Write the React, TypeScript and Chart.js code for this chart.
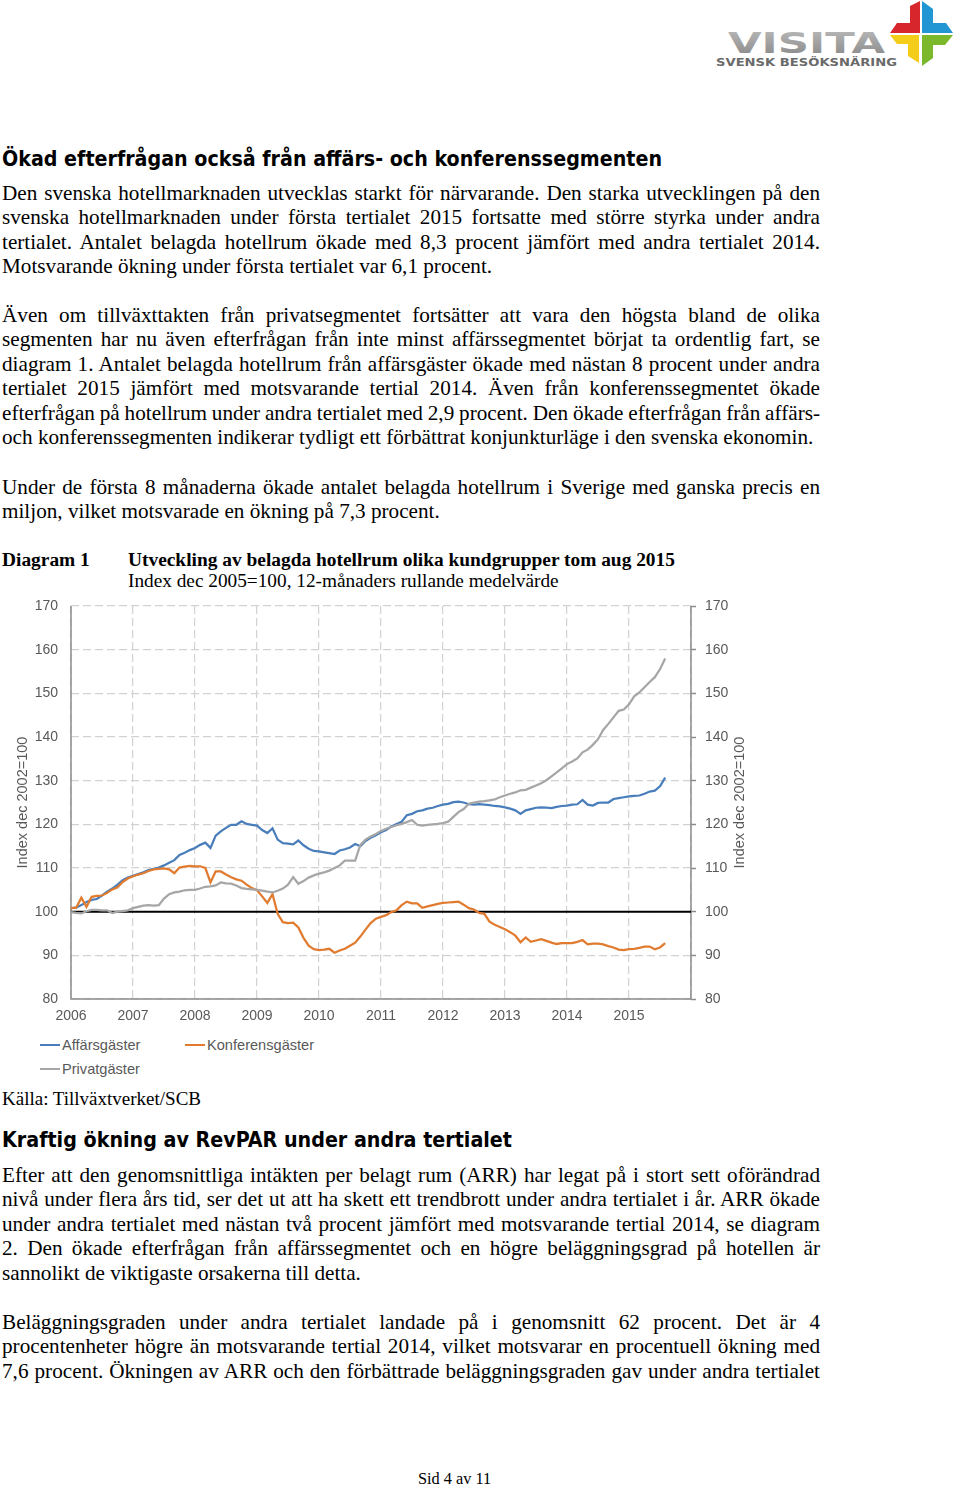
import React, { useEffect, useRef } from 'react';
import { Chart, registerables } from 'chart.js';

Chart.register(...registerables);

// ---------- chart data (monthly, Jan 2006 .. Aug 2015) ----------
const yearLabels = ['2006', '2007', '2008', '2009', '2010', '2011', '2012', '2013', '2014', '2015'];
const yTickValues = [80, 90, 100, 110, 120, 130, 140, 150, 160, 170];
const seriesNames = ['Affärsgäster', 'Konferensgäster', 'Privatgäster'];

const affarsgaster = [
  100.8, 100.9, 101.5, 102.2, 102.7, 102.9, 103.7, 104.6, 105.3, 106.2, 107.2, 107.8,
  108.2, 108.6, 109.0, 109.5, 109.8, 110.1, 110.6, 111.2, 111.8, 113.0, 113.5, 114.1,
  114.6, 115.3, 115.8, 114.6, 117.4, 118.4, 119.2, 119.9, 119.9, 120.7, 120.1, 119.9,
  119.7, 118.7, 118.0, 119.1, 116.5, 115.7, 115.6, 115.4, 116.3, 115.2, 114.4, 113.9,
  113.8, 113.6, 113.4, 113.2, 114.0, 114.3, 114.7, 115.5, 115.0, 116.2, 116.9, 117.5,
  118.2, 118.7, 119.5, 120.1, 120.6, 122.1, 122.4, 123.0, 123.2, 123.6, 123.8, 124.2,
  124.5, 124.7, 125.1, 125.2, 125.0, 124.6, 124.5, 124.6, 124.5, 124.4, 124.2, 124.1,
  123.9, 123.6, 123.2, 122.4, 123.2, 123.5, 123.8, 123.9, 123.8, 123.7, 124.0, 124.2,
  124.3, 124.5, 124.6, 125.6, 124.5, 124.3, 124.9, 125.0, 125.0, 125.8, 126.0, 126.2,
  126.4, 126.5, 126.6, 127.0, 127.5, 127.7, 128.7, 130.7,
];

const konferensgaster = [
  100.8, 100.9, 103.2, 101.1, 103.4, 103.6, 103.7, 104.3, 105.1, 105.6, 106.8, 107.6,
  108.1, 108.5, 108.8, 109.3, 109.7, 109.8, 109.9, 109.7, 108.8, 110.1, 110.3, 110.5,
  110.4, 110.4, 110.0, 106.7, 109.2, 109.2, 108.5, 107.9, 107.4, 107.1, 106.2, 105.4,
  104.9, 103.5, 102.0, 104.0, 99.5, 97.6, 97.4, 97.5, 96.4, 94.0, 92.2, 91.4,
  91.2, 91.3, 91.5, 90.6, 91.1, 91.5, 92.2, 92.9, 94.3, 95.9, 97.4, 98.4,
  98.8, 99.2, 99.9, 100.3, 101.5, 102.3, 101.9, 101.9, 100.9, 101.2, 101.5, 101.8,
  102.0, 102.1, 102.2, 102.3, 101.6, 100.8, 100.5, 99.7, 99.5, 97.7, 97.0, 96.5,
  96.0, 95.3, 94.5, 93.0, 94.1, 93.1, 93.4, 93.7, 93.3, 92.9, 92.6, 92.8,
  92.8, 92.8, 93.1, 93.5, 92.5, 92.7, 92.7, 92.5, 92.1, 91.8, 91.3, 91.2,
  91.4, 91.5, 91.7, 92.0, 92.0, 91.4, 91.8, 92.8,
];

const privatgaster = [
  99.9, 99.7, 99.6, 100.1, 100.4, 100.4, 100.3, 100.3, 99.7, 100.0, 100.1, 100.3,
  100.8, 101.1, 101.4, 101.5, 101.4, 101.5, 103.0, 104.0, 104.4, 104.6, 104.9, 105.0,
  105.0, 105.3, 105.7, 105.8, 106.0, 106.7, 106.5, 106.4, 106.0, 105.4, 105.2, 105.1,
  105.0, 104.8, 104.6, 104.4, 104.8, 105.3, 106.2, 107.9, 106.4, 107.0, 107.8, 108.3,
  108.7, 109.0, 109.4, 110.0, 110.6, 111.7, 111.7, 111.7, 115.3, 116.5, 117.2, 117.8,
  118.5, 119.0, 119.4, 119.8, 120.1, 120.5, 121.0, 119.9, 119.7, 119.9, 120.0, 120.1,
  120.3, 120.6, 121.7, 122.8, 123.5, 124.7, 125.0, 125.2, 125.3, 125.5, 125.7, 126.2,
  126.6, 127.0, 127.3, 127.8, 127.9, 128.4, 128.9, 129.4, 130.1, 131.0, 131.9, 132.8,
  133.8, 134.4, 135.1, 136.5, 137.1, 138.2, 139.5, 141.6, 143.0, 144.5, 146.0, 146.3,
  147.5, 149.3, 150.2, 151.4, 152.6, 153.7, 155.5, 158.0,
];

// ---------- styling ----------
const BLUE = '#4A7EBB';
const ORANGE = '#E07B30';
const GRAY = '#A6A6A6';
const GRID = '#D2D2D2';
const AXIS = '#8C8C8C';
const TXT = '#595959';
const SANS = '"Liberation Sans", Arial, Helvetica, sans-serif';
const SERIF = '"Liberation Serif", "Times New Roman", Times, serif';

const axisPlugin = {
  id: 'axisLines',
  beforeDatasetsDraw(chart: any) {
    const { ctx, chartArea, scales } = chart;
    const { left, right, top, bottom } = chartArea;
    ctx.save();
    ctx.setLineDash([]);
    ctx.strokeStyle = AXIS;
    ctx.lineWidth = 1.5;
    ctx.beginPath();
    ctx.moveTo(left, top);
    ctx.lineTo(left, bottom);
    ctx.lineTo(right, bottom);
    ctx.lineTo(right, top);
    ctx.stroke();
    const y100 = scales.y.getPixelForValue(100);
    ctx.strokeStyle = '#000';
    ctx.lineWidth = 2;
    ctx.beginPath();
    ctx.moveTo(left, y100);
    ctx.lineTo(right, y100);
    ctx.stroke();
    ctx.restore();
  },
  afterDraw(chart: any) {
    const { ctx, chartArea } = chart;
    const mid = (chartArea.top + chartArea.bottom) / 2;
    ctx.save();
    ctx.font = `14.5px ${SANS}`;
    ctx.fillStyle = TXT;
    ctx.textAlign = 'center';
    ctx.textBaseline = 'middle';
    [23, 740].forEach((x) => {
      ctx.save();
      ctx.translate(x, mid);
      ctx.rotate(-Math.PI / 2);
      ctx.fillText('Index dec 2002=100', 0, 0);
      ctx.restore();
    });
    ctx.restore();
  },
};

const fitVertical = (w: number) => (s: any) => {
  s.width = w;
  s.paddingTop = 0;
  s.paddingBottom = 0;
};

function LineChart() {
  const ref = useRef<HTMLCanvasElement>(null);
  useEffect(() => {
    if (!ref.current) return;
    const toPts = (arr: number[]) => arr.map((y, i) => ({ x: i, y }));
    const tickFont = { family: SANS, size: 14 };
    const chart = new Chart(ref.current, {
      type: 'line',
      data: {
        datasets: [
          { label: seriesNames[2], data: toPts(privatgaster), borderColor: GRAY, order: 0 },
          { label: seriesNames[1], data: toPts(konferensgaster), borderColor: ORANGE, order: 1 },
          { label: seriesNames[0], data: toPts(affarsgaster), borderColor: BLUE, order: 2 },
        ] as any,
      },
      options: {
        responsive: false,
        animation: false,
        devicePixelRatio: 1,
        layout: { padding: { top: 16, left: 0, right: 0, bottom: 0 } },
        elements: {
          point: { radius: 0 },
          line: { borderWidth: 2.25, tension: 0, fill: false },
        },
        plugins: { legend: { display: false }, tooltip: { enabled: false } },
        scales: {
          x: {
            type: 'linear',
            min: 0,
            max: 120,
            afterFit: (s: any) => { s.height = 31; s.paddingLeft = 0; s.paddingRight = 0; },
            ticks: {
              stepSize: 12,
              autoSkip: false,
              maxRotation: 0,
              padding: 9,
              color: TXT,
              font: tickFont,
              callback: (v: any) => {
                const idx = Math.round(Number(v) / 12);
                return idx < yearLabels.length ? yearLabels[idx] : '';
              },
            },
            grid: { color: GRID, lineWidth: 1.2, drawTicks: false },
            border: { display: false, dash: [8, 4] },
          },
          y: {
            position: 'left',
            min: 80,
            max: 170,
            afterFit: fitVertical(71),
            afterBuildTicks: (s: any) => { s.ticks = yTickValues.map((v) => ({ value: v })); },
            ticks: { stepSize: 10, padding: 13, color: TXT, font: tickFont },
            grid: { color: GRID, lineWidth: 1.2, drawTicks: false },
            border: { display: false, dash: [8, 4] },
          },
          y2: {
            position: 'right',
            min: 80,
            max: 170,
            afterFit: fitVertical(89),
            afterBuildTicks: (s: any) => { s.ticks = yTickValues.map((v) => ({ value: v })); },
            ticks: { stepSize: 10, padding: 9, color: TXT, font: tickFont },
            grid: { drawOnChartArea: false, drawTicks: true, tickLength: 5, tickColor: AXIS, tickWidth: 1.5 },
            border: { display: false },
          },
        } as any,
      },
      plugins: [axisPlugin],
    });
    return () => chart.destroy();
  }, []);
  return (
    <canvas
      ref={ref}
      width={780}
      height={440}
      style={{ position: 'absolute', left: 0, top: 590, width: 780, height: 440 }}
    />
  );
}

// ---------- page text ----------
const p1 = [
  'Den svenska hotellmarknaden utvecklas starkt för närvarande. Den starka utvecklingen på den',
  'svenska hotellmarknaden under första tertialet 2015 fortsatte med större styrka under andra',
  'tertialet. Antalet belagda hotellrum ökade med 8,3 procent jämfört med andra tertialet 2014.',
  'Motsvarande ökning under första tertialet var 6,1 procent.',
];
const p2 = [
  'Även om tillväxttakten från privatsegmentet fortsätter att vara den högsta bland de olika',
  'segmenten har nu även efterfrågan från inte minst affärssegmentet börjat ta ordentlig fart, se',
  'diagram 1. Antalet belagda hotellrum från affärsgäster ökade med nästan 8 procent under andra',
  'tertialet 2015 jämfört med motsvarande tertial 2014. Även från konferenssegmentet ökade',
  'efterfrågan på hotellrum under andra tertialet med 2,9 procent. Den ökade efterfrågan från affärs-',
  'och konferenssegmenten indikerar tydligt ett förbättrat konjunkturläge i den svenska ekonomin.',
];
const p3 = [
  'Under de första 8 månaderna ökade antalet belagda hotellrum i Sverige med ganska precis en',
  'miljon, vilket motsvarade en ökning på 7,3 procent.',
];
const p4 = [
  'Efter att den genomsnittliga intäkten per belagt rum (ARR) har legat på i stort sett oförändrad',
  'nivå under flera års tid, ser det ut att ha skett ett trendbrott under andra tertialet i år. ARR ökade',
  'under andra tertialet med nästan två procent jämfört med motsvarande tertial 2014, se diagram',
  '2. Den ökade efterfrågan från affärssegmentet och en högre beläggningsgrad på hotellen är',
  'sannolikt de viktigaste orsakerna till detta.',
];
const p5 = [
  'Beläggningsgraden under andra tertialet landade på i genomsnitt 62 procent. Det är 4',
  'procentenheter högre än motsvarande tertial 2014, vilket motsvarar en procentuell ökning med',
  '7,6 procent. Ökningen av ARR och den förbättrade beläggningsgraden gav under andra tertialet',
];

function TextLine(props: {
  text: string; baseline: number; left?: number; width?: number; size?: number;
  bold?: boolean; justify?: boolean;
}) {
  const { text, baseline, left = 2, width = 818, size = 21.2, bold = false, justify = false } = props;
  const lh = 24.5;
  const off = (lh - 1.107 * size) / 2 + 0.891 * size;
  return (
    <div
      style={{
        position: 'absolute',
        left,
        top: baseline - off,
        width: justify ? width : undefined,
        whiteSpace: justify ? 'normal' : 'nowrap',
        fontFamily: SERIF,
        fontSize: size,
        lineHeight: `${lh}px`,
        fontWeight: bold ? 'bold' : 'normal',
        textAlign: justify ? 'justify' : 'left',
        textAlignLast: justify ? 'justify' : 'auto',
        wordSpacing: justify ? -3 : 0,
        color: '#000',
      } as any}
    >
      {text}
    </div>
  );
}

function Paragraph(props: { lines: string[]; firstBaseline: number; justifyLast?: boolean }) {
  const { lines, firstBaseline, justifyLast = false } = props;
  return (
    <>
      {lines.map((t, i) => (
        <TextLine
          key={i}
          text={t}
          baseline={firstBaseline + i * 24.5}
          justify={i < lines.length - 1 || justifyLast}
        />
      ))}
    </>
  );
}

function Heading(props: { text: string; top: number; baseline: number; length: number }) {
  return (
    <svg
      style={{ position: 'absolute', left: 0, top: props.top }}
      width={700}
      height={40}
    >
      <text
        x={2}
        y={props.baseline - props.top}
        fontFamily='"DejaVu Sans Condensed", "DejaVu Sans", Verdana, sans-serif'
        fontWeight="bold"
        fontSize={20.5}
        textLength={props.length}
        lengthAdjust="spacingAndGlyphs"
        fill="#000"
      >
        {props.text}
      </text>
    </svg>
  );
}

function Logo() {
  return (
    <svg style={{ position: 'absolute', left: 700, top: 0 }} width={260} height={75}>
      <defs>
        <linearGradient id="vgrad" x1="0" y1="0" x2="0" y2="1">
          <stop offset="0" stopColor="#bdbdbd" />
          <stop offset="1" stopColor="#858585" />
        </linearGradient>
      </defs>
      <text
        x={28}
        y={53}
        fontFamily='"DejaVu Sans", Verdana, sans-serif'
        fontWeight="bold"
        fontSize={29}
        textLength={157}
        lengthAdjust="spacingAndGlyphs"
        fill="url(#vgrad)"
      >
        VISITA
      </text>
      <text
        x={16}
        y={66}
        fontFamily='"DejaVu Sans", Verdana, sans-serif'
        fontWeight="bold"
        fontSize={10.3}
        textLength={181}
        lengthAdjust="spacingAndGlyphs"
        fill="#6a6a6a"
      >
        SVENSK BESÖKSNÄRING
      </text>
      <polygon points="210,6 220,1 220,33 190,33 197,23 210,23" fill="#d8262d" />
      <polygon points="222,1 233,9 233,23 246,23 253,33 222,33" fill="#2196d3" />
      <polygon points="190,35 219,35 219,63 208,56 208,44 197,44" fill="#f4cd1a" />
      <polygon points="222,35 253,35 245,45 233,45 233,58 222,66" fill="#7bb82c" />
    </svg>
  );
}

function LegendItem(props: { color: string; label: string; x: number; y: number }) {
  const { color, label, x, y } = props;
  return (
    <>
      <div style={{ position: 'absolute', left: x, top: y - 1, width: 20, height: 2, background: color }} />
      <div
        style={{
          position: 'absolute', left: x + 22, top: y - 9, fontFamily: SANS, fontSize: 14.6,
          lineHeight: '18px', color: TXT, whiteSpace: 'nowrap',
        }}
      >
        {label}
      </div>
    </>
  );
}

export default function App() {
  return (
    <div style={{ position: 'absolute', left: 0, top: 0, width: 960, height: 1488, background: '#fff', overflow: 'hidden' }}>
      <Logo />
      <Heading text="Ökad efterfrågan också från affärs- och konferenssegmenten" top={140} baseline={165.5} length={660} />
      <Paragraph lines={p1} firstBaseline={200.2} />
      <Paragraph lines={p2} firstBaseline={322.2} />
      <Paragraph lines={p3} firstBaseline={494.2} />

      <TextLine text="Diagram 1" baseline={566.5} bold size={19.4} />
      <TextLine text="Utveckling av belagda hotellrum olika kundgrupper tom aug 2015" baseline={566.5} left={128} bold size={19.4} />
      <TextLine text="Index dec 2005=100, 12-månaders rullande medelvärde" baseline={587.5} left={128} size={19.3} />

      <LineChart />

      <LegendItem color={BLUE} label={seriesNames[0]} x={40} y={1045} />
      <LegendItem color={ORANGE} label={seriesNames[1]} x={185} y={1045} />
      <LegendItem color={GRAY} label={seriesNames[2]} x={40} y={1069} />

      <TextLine text="Källa: Tillväxtverket/SCB" baseline={1106} size={19} />

      <Heading text="Kraftig ökning av RevPAR under andra tertialet" top={1120} baseline={1147} length={510} />
      <Paragraph lines={p4} firstBaseline={1182.3} />
      <Paragraph lines={p5} firstBaseline={1329.2} justifyLast />

      <TextLine text="Sid 4 av 11" baseline={1485} left={418} size={16.3} />
    </div>
  );
}
